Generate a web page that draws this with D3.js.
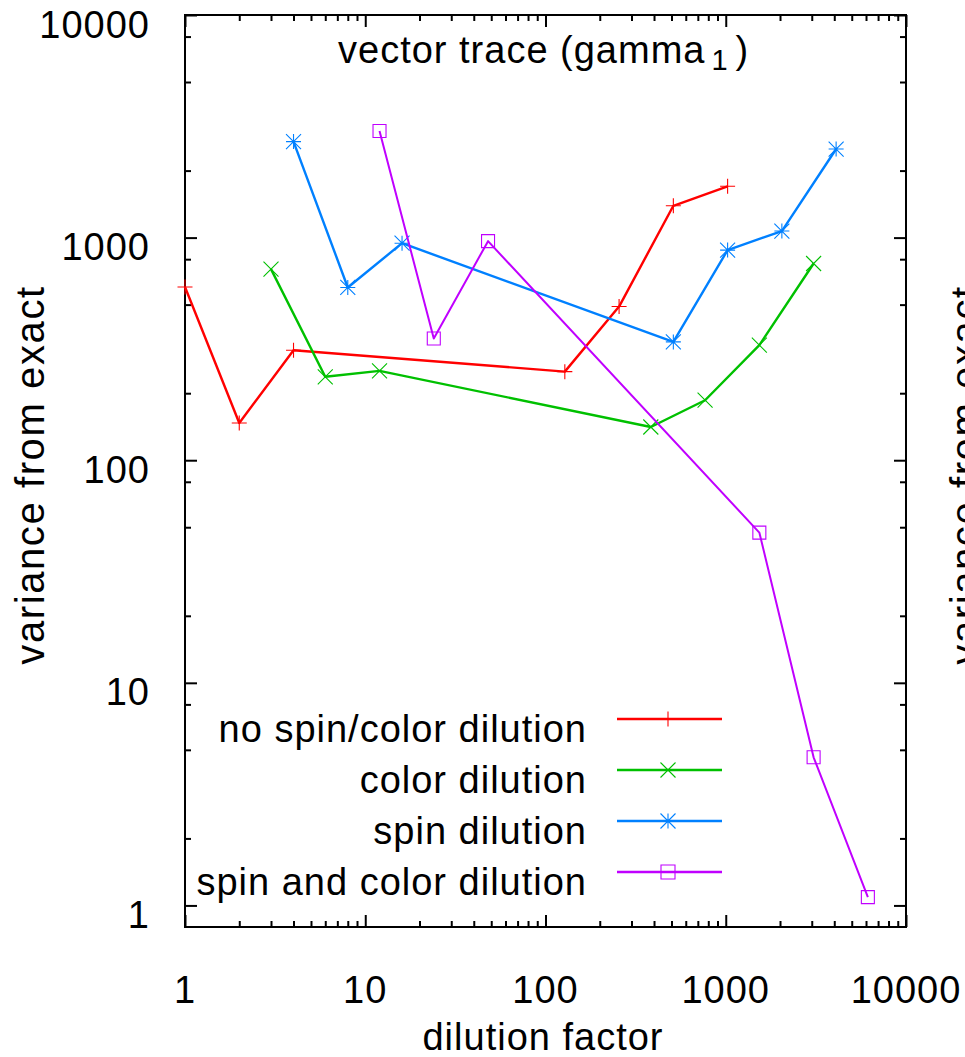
<!DOCTYPE html>
<html>
<head>
<meta charset="utf-8">
<script src="https://cdn.jsdelivr.net/npm/d3@7"></script>
<style>
  html, body { margin: 0; padding: 0; background: #fff; }
  svg { display: block; }
  text { font-family: "Liberation Sans", Arial, Helvetica, sans-serif; fill: #000; }
</style>
</head>
<body>
<svg id="chart" width="965" height="1057"></svg>
<script>
// Variance from the exact vector trace versus dilution factor
const seriesNames = ["no spin/color dilution", "color dilution", "spin dilution", "spin and color dilution"];
const seriesColors = ["#ff0000", "#00c000", "#0080ff", "#c000ff"];
const seriesMarkers = ["plus", "cross", "star", "square"];

const xNoDilution = [1, 2, 4, 128, 256, 512, 1024];
const yNoDilution = [600, 147, 312, 250, 490, 1390, 1700];

const xColorDilution = [3, 6, 12, 384, 768, 1536, 3072];
const yColorDilution = [722, 237, 252, 141, 186, 329, 765];

const xSpinDilution = [4, 8, 16, 512, 1024, 2048, 4096];
const ySpinDilution = [2700, 597, 944, 340, 879, 1070, 2500];

const xSpinColorDilution = [12, 24, 48, 1536, 3072, 6144];
const ySpinColorDilution = [3010, 352, 964, 47.3, 4.63, 1.09];

const xTickLabels = ["1", "10", "100", "1000", "10000"];
const yTickLabels = ["1", "10", "100", "1000", "10000"];

const titleText = "vector trace (gamma";
const titleSub = "1";
const xLabel = "dilution factor";
const yLabel = "variance from exact";

const seriesX = [xNoDilution, xColorDilution, xSpinDilution, xSpinColorDilution];
const seriesY = [yNoDilution, yColorDilution, ySpinDilution, ySpinColorDilution];
const series = seriesNames.map((name, i) => ({
  name, color: seriesColors[i], marker: seriesMarkers[i],
  points: seriesX[i].map((x, j) => ({ x, y: seriesY[i][j] }))
}));

const svg = d3.select("#chart");
const frame = { left: 185, right: 906, top: 15, bottom: 927 };

const x = d3.scaleLog().domain([1, 10000]).range([frame.left, frame.right]);
const y = d3.scaleLog().domain([0.8, 10000]).range([frame.bottom, frame.top]);

const FONT = 38;
const LS = "1px";

// minor tick positions
const xMinor = [];
[1, 10, 100, 1000].forEach(d => { for (let k = 2; k <= 9; k++) xMinor.push(d * k); });
const yMinor = [];
[1, 10, 100, 1000].forEach(d => { [2, 5, 8].forEach(k => yMinor.push(d * k)); });
const xMajor = xTickLabels.map(Number);
const yMajor = yTickLabels.map(Number);

const MAJ = 12, MIN = 6;

// axes on all four sides, ticks pointing inward; labels drawn separately
function axisGroup(axisFn, scale, values, size, tx, ty) {
  const g = svg.append("g").attr("transform", `translate(${tx},${ty})`)
    .call(axisFn(scale).tickValues(values).tickSize(size).tickFormat(""));
  g.select(".domain").remove();
  g.selectAll(".tick line").attr("stroke", "#000").attr("stroke-width", 2);
  return g;
}
axisGroup(d3.axisBottom, x, xMajor, -MAJ, 0, frame.bottom);
axisGroup(d3.axisBottom, x, xMinor, -MIN, 0, frame.bottom);
axisGroup(d3.axisTop, x, xMajor, -MAJ, 0, frame.top);
axisGroup(d3.axisTop, x, xMinor, -MIN, 0, frame.top);
axisGroup(d3.axisLeft, y, yMajor, -MAJ, frame.left, 0);
axisGroup(d3.axisLeft, y, yMinor, -MIN, frame.left, 0);
axisGroup(d3.axisRight, y, yMajor, -MAJ, frame.right, 0);
axisGroup(d3.axisRight, y, yMinor, -MIN, frame.right, 0);

// frame
svg.append("rect")
  .attr("x", frame.left).attr("y", frame.top)
  .attr("width", frame.right - frame.left).attr("height", frame.bottom - frame.top)
  .attr("fill", "none").attr("stroke", "#000").attr("stroke-width", 2);

// tick labels
svg.append("g").selectAll("text").data(xTickLabels).join("text")
  .attr("x", d => x(+d)).attr("y", 1003)
  .attr("text-anchor", "middle").attr("font-size", FONT).attr("letter-spacing", LS)
  .text(d => d);

svg.append("g").selectAll("text").data(yTickLabels).join("text")
  .attr("x", 150).attr("y", d => y(+d) + 22.5)
  .attr("text-anchor", "end").attr("font-size", FONT).attr("letter-spacing", LS)
  .text(d => d);

// axis titles
svg.append("text").attr("x", 543).attr("y", 1050)
  .attr("text-anchor", "middle").attr("font-size", FONT).attr("letter-spacing", LS)
  .text(xLabel);

svg.append("text").attr("transform", "translate(44,475) rotate(-90)")
  .attr("text-anchor", "middle").attr("font-size", 40).attr("letter-spacing", "1.6px")
  .text(yLabel);

// neighbouring panel's axis title, cut by the page edge
svg.append("text").attr("transform", "translate(979,475) rotate(-90)")
  .attr("text-anchor", "middle").attr("font-size", 40).attr("letter-spacing", "1.6px")
  .text(yLabel);

// plot title with subscript
const title = svg.append("text").attr("x", 338).attr("y", 63)
  .attr("font-size", FONT).attr("letter-spacing", LS);
title.append("tspan").text(titleText);
title.append("tspan").attr("dx", 6).attr("dy", 7).attr("font-size", 29).text(titleSub);
title.append("tspan").attr("dx", 7).attr("dy", -7).text(")");

// marker shapes
function markerPath(type, s) {
  switch (type) {
    case "plus": return `M${-s},0H${s}M0,${-s}V${s}`;
    case "cross": return `M${-s},${-s}L${s},${s}M${-s},${s}L${s},${-s}`;
    case "star": return `M${-s},0H${s}M0,${-s}V${s}M${-s},${-s}L${s},${s}M${-s},${s}L${s},${-s}`;
    case "square": return `M${-s},${-s}H${s}V${s}H${-s}Z`;
  }
}

const line = d3.line().x(d => x(d.x)).y(d => y(d.y));

const plot = svg.append("g");
series.forEach(s => {
  plot.append("path").datum(s.points)
    .attr("d", line).attr("fill", "none")
    .attr("stroke", s.color).attr("stroke-width", s.marker === "square" ? 2 : 2.4)
    .attr("stroke-linejoin", "round");
  plot.append("g").selectAll("path").data(s.points).join("path")
    .attr("transform", d => `translate(${x(d.x)},${y(d.y)})`)
    .attr("d", markerPath(s.marker, s.marker === "square" ? 6.5 : 7.5))
    .attr("fill", "none").attr("stroke", s.color).attr("stroke-width", 1.1);
});

// legend
const legend = svg.append("g");
const legendTop = 719, legendStep = 51;
series.forEach((s, i) => {
  const ly = legendTop + i * legendStep;
  legend.append("text").attr("x", 587).attr("y", ly + 22.5)
    .attr("text-anchor", "end").attr("font-size", FONT).attr("letter-spacing", LS)
    .text(s.name);
  legend.append("line").attr("x1", 617).attr("x2", 722).attr("y1", ly).attr("y2", ly)
    .attr("stroke", s.color).attr("stroke-width", 2.6);
  legend.append("path").attr("transform", `translate(668,${ly})`)
    .attr("d", markerPath(s.marker, s.marker === "square" ? 7 : 7.5))
    .attr("fill", "none").attr("stroke", s.color).attr("stroke-width", 1.1);
});
</script>
</body>
</html>
